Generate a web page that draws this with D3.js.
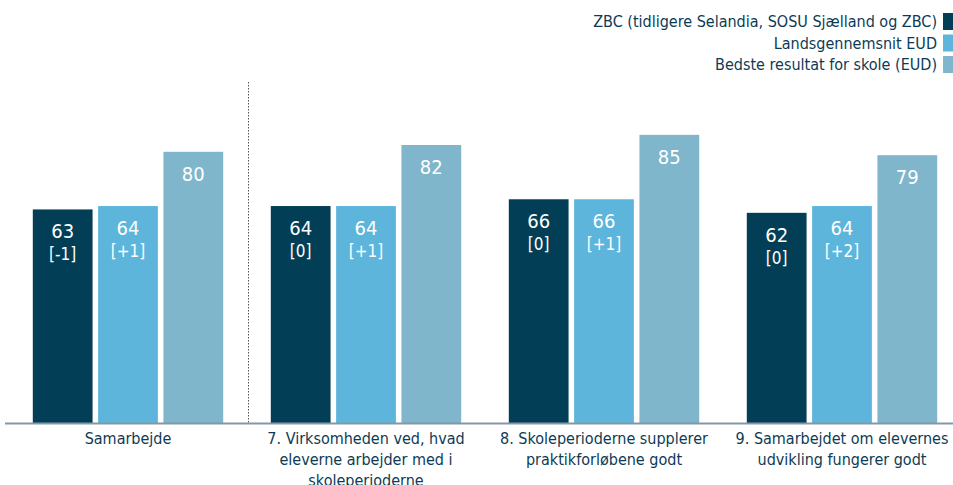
<!DOCTYPE html>
<html>
<head>
<meta charset="utf-8">
<script src="https://cdn.jsdelivr.net/npm/d3@7"></script>
<style>
  body { margin: 0; background: #fff; }
  svg { display: block; font-family: "DejaVu Sans Condensed", "DejaVu Sans", Verdana, sans-serif; font-stretch: condensed; }
</style>
</head>
<body>
<svg id="chart" width="953" height="485"></svg>
<script>
// chart data
const categories = [
  ["Samarbejde"],
  ["7. Virksomheden ved, hvad", "eleverne arbejder med i", "skoleperioderne"],
  ["8. Skoleperioderne supplerer", "praktikforløbene godt"],
  ["9. Samarbejdet om elevernes", "udvikling fungerer godt"]
]
const seriesNames = [
  "ZBC (tidligere Selandia, SOSU Sjælland og ZBC)",
  "Landsgennemsnit EUD",
  "Bedste resultat for skole (EUD)"
]
const zbc = [63, 64, 66, 62]
const zbcChange = ["[-1]", "[0]", "[0]", "[0]"]
const national = [64, 64, 66, 64]
const nationalChange = ["[+1]", "[+1]", "[+1]", "[+2]"]
const best = [80, 82, 85, 79]

const colors = ["#023f57", "#5db5db", "#7fb6cb"]
const textColor = "#0d3b55"

const svg = d3.select("#chart")
const ids = categories.map((c, i) => i)

const x0 = d3.scaleBand().domain(ids).range([9, 961]).paddingInner(0.2).paddingOuter(0.1)
const x1 = d3.scaleBand().domain([0, 1, 2]).range([0, x0.bandwidth()]).paddingInner(0.085)
const y = d3.scaleLinear().domain([0, 100]).range([423, 84])

const rows = ids.map(i => [
  { v: zbc[i], sub: zbcChange[i] },
  { v: national[i], sub: nationalChange[i] },
  { v: best[i], sub: null }
])

// separator after the first group
svg.append("line")
  .attr("x1", 248.5).attr("x2", 248.5)
  .attr("y1", 82).attr("y2", 423)
  .attr("stroke", "#555").attr("stroke-width", 1)
  .attr("stroke-dasharray", "1.5,1.5")

const groups = svg.selectAll("g.grp")
  .data(rows)
  .enter().append("g")
  .attr("class", "grp")
  .attr("transform", (d, i) => `translate(${x0(i)},0)`)

const bars = groups.selectAll("g.bar")
  .data(d => d)
  .enter().append("g")
  .attr("class", "bar")

bars.append("rect")
  .attr("x", (d, j) => x1(j))
  .attr("y", d => y(d.v))
  .attr("width", x1.bandwidth())
  .attr("height", d => y(0) - y(d.v))
  .attr("fill", (d, j) => colors[j])

bars.append("text")
  .attr("x", (d, j) => x1(j) + x1.bandwidth() / 2)
  .attr("y", d => y(d.v) + 29)
  .attr("text-anchor", "middle")
  .attr("fill", "#fff")
  .attr("font-size", 20)
  .text(d => d.v)

bars.filter(d => d.sub)
  .append("text")
  .attr("x", (d, j) => x1(j) + x1.bandwidth() / 2)
  .attr("y", d => y(d.v) + 51)
  .attr("text-anchor", "middle")
  .attr("fill", "#fff")
  .attr("font-size", 17)
  .text(d => d.sub)

// baseline
svg.append("line")
  .attr("x1", 5).attr("x2", 953)
  .attr("y1", y(0) + 0.5).attr("y2", y(0) + 0.5)
  .attr("stroke", "#8597a6").attr("stroke-width", 2)

// category labels
const labels = svg.selectAll("text.cat")
  .data(categories)
  .enter().append("text")
  .attr("class", "cat")
  .attr("text-anchor", "middle")
  .attr("fill", textColor)
  .attr("font-size", 16)

labels.selectAll("tspan")
  .data((d, i) => d.map(t => ({ t, i })))
  .enter().append("tspan")
  .attr("x", d => x0(d.i) + x0.bandwidth() / 2)
  .attr("y", (d, k) => 444 + k * 21)
  .text(d => d.t)

// legend
const legend = svg.selectAll("g.leg")
  .data(seriesNames)
  .enter().append("g")
  .attr("class", "leg")
  .attr("transform", (d, i) => `translate(0,${21.5 + i * 21.5})`)

legend.append("rect")
  .attr("x", 943).attr("y", -8.5)
  .attr("width", 10).attr("height", 17)
  .attr("fill", (d, i) => colors[i])

legend.append("text")
  .attr("x", 937).attr("y", 5.5)
  .attr("text-anchor", "end")
  .attr("fill", textColor)
  .attr("font-size", 16)
  .text(d => d)
</script>
</body>
</html>
